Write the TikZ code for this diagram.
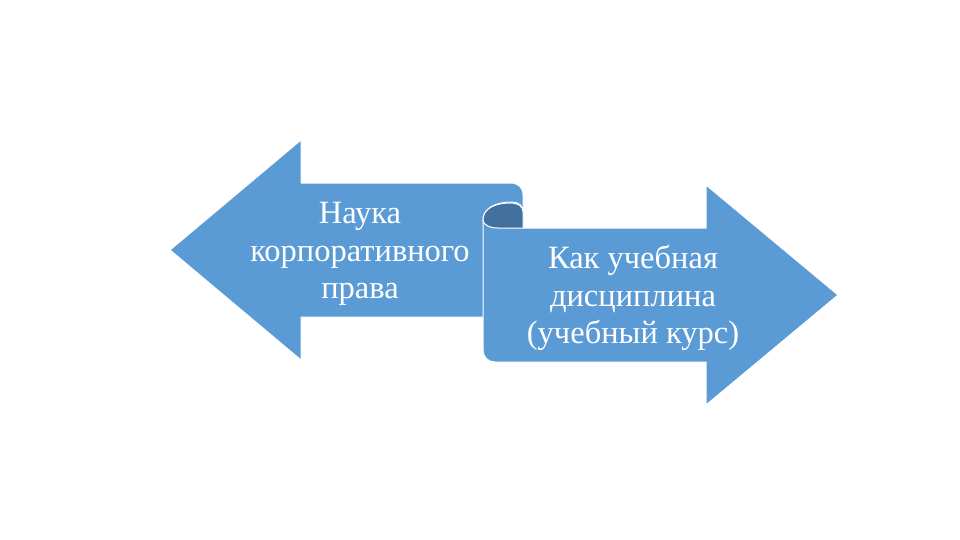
\documentclass[tikz,border=0pt]{standalone}
\usepackage{fontspec}
\setmainfont{Liberation Serif}
\definecolor{arrblue}{HTML}{5B9BD5}
\definecolor{curldark}{HTML}{41719C}
\begin{document}
\begin{tikzpicture}[x=1pt,y=-1pt,
  arrowshape/.style={fill=arrblue,draw=white,line width=1pt,line join=round},
  lbl/.style={text=white,align=center,inner sep=0pt,font=\fontsize{32.5}{37.5}\selectfont}]
\useasboundingbox (0,0) rectangle (960,540);
% left arrow
\path[arrowshape] (170,250) -- (301,140) -- (301,183) -- (510,183)
  .. controls (518,183) and (523,187) .. (523,195) -- (523,228) -- (523,317)
  -- (301,317) -- (301,360) -- cycle;
% right scroll arrow
\path[arrowshape] (483,220) -- (483,350) .. controls (483,357) and (488,362) .. (495,362)
  -- (706,362) -- (706,405) -- (838,295) -- (706,185) -- (706,228) -- (523,228)
  -- (523,212) .. controls (523,206) and (519,202) .. (512,202)
  .. controls (496,202) and (483,208) .. (483,220) -- cycle;
% curl
\path[fill=curldark,draw=white,line width=1pt] (483,220)
  .. controls (483,208) and (496,203) .. (510,203)
  .. controls (518,203) and (523,206) .. (523,212) -- (523,228) -- (498,228)
  .. controls (490,228) and (483,225) .. (483,220) -- cycle;
\node[lbl] (left) at (360,254) {Наука\\корпоративного\\права};
\node[lbl] (right) at (633,298) {Как учебная\\дисциплина\\(учебный курс)};
\end{tikzpicture}
\end{document}
